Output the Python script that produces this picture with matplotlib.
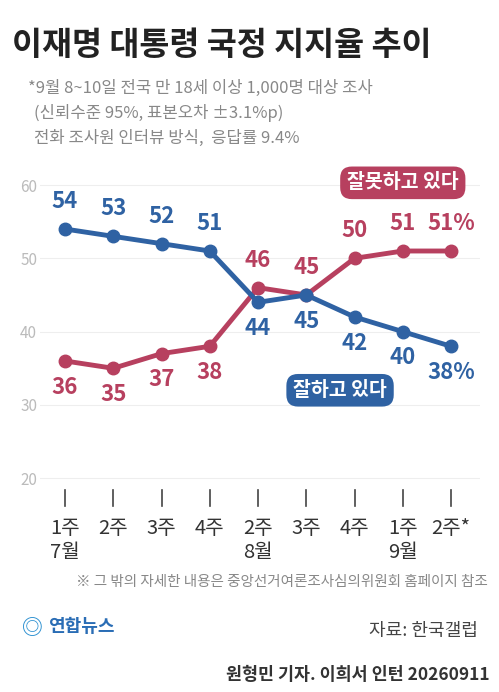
import matplotlib
matplotlib.use("Agg")
import matplotlib.pyplot as plt
from matplotlib.transforms import blended_transform_factory
from matplotlib.lines import Line2D

plt.rcParams["font.family"] = ["Noto Sans CJK KR", "DejaVu Sans"]

weeks = ["1주\n7월", "2주", "3주", "4주", "2주\n8월", "3주", "4주", "1주\n9월", "2주*"]
approve = [54, 53, 52, 51, 44, 45, 42, 40, 38]
disapprove = [36, 35, 37, 38, 46, 45, 50, 51, 51]

BLUE = "#2f62a3"
RED = "#b7405f"
GRAY = "#888888"

W, H = 499, 692
fig = plt.figure(figsize=(W / 100, H / 100), dpi=100)


def fy(py):
    return 1 - py / H


# title and notes
fig.text(12 / W, fy(45), "이재명 대통령 국정 지지율 추이", fontsize=23.5, fontweight="bold",
         color="#222222", va="center")
fig.text(28 / W, fy(88), "*9월 8~10일 전국 만 18세 이상 1,000명 대상 조사", fontsize=12,
         color=GRAY, va="center")
fig.text(34 / W, fy(113), "(신뢰수준 95%, 표본오차 ±3.1%p)", fontsize=12, color=GRAY, va="center")
fig.text(34 / W, fy(138), "전화 조사원 인터뷰 방식,  응답률 9.4%", fontsize=12, color=GRAY, va="center")

# plot area
left, right, top, bottom = 40, 480, 170, 480
ax = fig.add_axes([left / W, fy(bottom), (right - left) / W, (bottom - top) / H])
ax.set_xlim(-0.518, 8.6)
ax.set_ylim(19.76, 62.05)
for s in ax.spines.values():
    s.set_visible(False)
ax.set_xticks([])
ax.set_yticks([20, 30, 40, 50, 60])
ax.tick_params(axis="y", length=0, pad=2, labelsize=11, labelcolor="#bbbbbb")
for v in [20, 30, 40, 50, 60]:
    ax.axhline(v, color="#eeeeee", lw=0.8, zorder=0)

x = list(range(len(weeks)))
ax.plot(x, approve, color=BLUE, lw=3.5, marker="o", ms=9, zorder=3)
ax.plot(x, disapprove, color=RED, lw=3.5, marker="o", ms=9, zorder=2)

for i, v in enumerate(approve):
    t = f"{v}%" if i == len(x) - 1 else str(v)
    if i < 4:
        ax.text(i, v + 2.2, t, color=BLUE, fontsize=16, fontweight="bold", ha="center", va="bottom")
    else:
        ax.text(i, v - 2.0, t, color=BLUE, fontsize=16, fontweight="bold", ha="center", va="top")
for i, v in enumerate(disapprove):
    t = f"{v}%" if i == len(x) - 1 else str(v)
    if i < 4:
        ax.text(i, v - 2.0, t, color=RED, fontsize=16, fontweight="bold", ha="center", va="top")
    else:
        ax.text(i, v + 2.2, t, color=RED, fontsize=16, fontweight="bold", ha="center", va="bottom")

ax.text(7.0, 60.3, "잘못하고 있다", color="white", fontsize=14, fontweight="bold", ha="center",
        va="center", bbox=dict(boxstyle="round,pad=0.35,rounding_size=0.6", fc=RED, ec="none"))
ax.text(5.7, 32.0, "잘하고 있다", color="white", fontsize=14, fontweight="bold", ha="center",
        va="center", bbox=dict(boxstyle="round,pad=0.35,rounding_size=0.6", fc=BLUE, ec="none"))

# x axis ticks and labels below
tr = blended_transform_factory(ax.transData, fig.transFigure)
for i, lab in enumerate(weeks):
    fig.add_artist(Line2D([i, i], [fy(490), fy(506)], transform=tr, color="#444444", lw=1.2))
    fig.text(i, fy(518), lab, transform=tr, fontsize=14.5, color="#333333", ha="center", va="top",
             linespacing=1.2)

fig.text(488 / W, fy(582), "※ 그 밖의 자세한 내용은 중앙선거여론조사심의위원회 홈페이지 참조",
         fontsize=10.5, color=GRAY, ha="right", va="center")
fig.text(22 / W, fy(627), "◎", fontsize=15, color="#2a8fd0", va="center", fontweight="bold")
fig.text(48 / W, fy(627), "연합뉴스", fontsize=13, color="#2a6db5", va="center", fontweight="bold")
fig.text(478 / W, fy(631), "자료: 한국갤럽", fontsize=13, color="#444444", ha="right", va="center")
fig.text(490 / W, fy(675), "원형민 기자. 이희서 인턴 20260911", fontsize=12.5, fontweight="bold",
         color="#333333", ha="right", va="center")

fig.savefig("out.png", dpi=100)
